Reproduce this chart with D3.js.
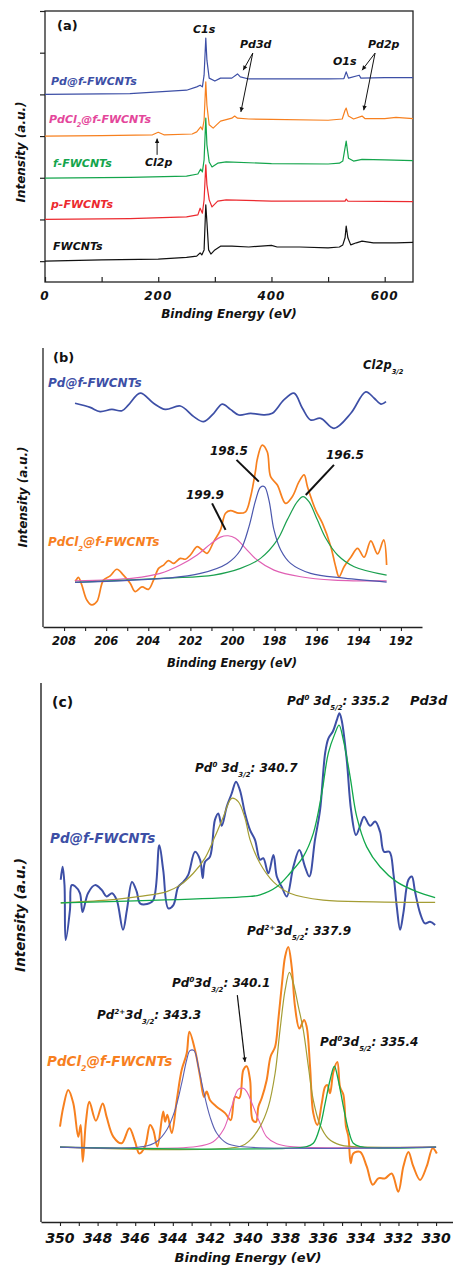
<!DOCTYPE html>
<html>
<head>
<meta charset="utf-8">
<script src="https://cdn.jsdelivr.net/npm/d3@7"></script>
<style>
  body { margin: 0; background: #fff; }
  svg text { font-family: "DejaVu Sans", "Liberation Sans", sans-serif; font-weight: bold; font-style: italic; }
  svg text.plain { font-style: normal; }
</style>
</head>
<body>
<div id="chart"></div>
<script>
// ---------- panel (a): survey spectra, [binding energy, intensity] ----------
var surveyFWCNTs = [[0,0.50],[100,0.53],[200,0.55],[250,0.59],[268,0.62],[274,0.70],[277,0.65],[281,0.77],[284,1.85],[286,1.44],[289,0.77],[293,0.67],[300,0.77],[310,0.86],[330,0.86],[360,0.84],[400,0.88],[410,0.84],[450,0.84],[500,0.82],[520,0.84],[526,0.89],[530,1.06],[532,1.34],[535,1.06],[540,0.89],[550,0.94],[560,0.98],[580,0.94],[620,0.94],[650,0.95]];
var surveyP = [[0,1.50],[150,1.52],[250,1.56],[270,1.61],[274,1.77],[278,1.65],[281,1.97],[284,2.81],[286,2.33],[290,1.97],[295,1.80],[305,1.94],[320,1.97],[400,1.94],[530,1.94],[532,1.99],[535,1.94],[650,1.93]];
var surveyF = [[0,2.49],[150,2.51],[250,2.54],[270,2.59],[275,2.71],[278,2.64],[281,2.93],[284,3.93],[286,3.29],[290,2.88],[295,2.76],[305,2.85],[320,2.88],[400,2.84],[500,2.83],[520,2.85],[526,2.90],[532,3.38],[536,2.97],[545,2.90],[560,2.94],[600,2.93],[650,2.91]];
var surveyPdCl2 = [[0,3.50],[100,3.51],[190,3.53],[200,3.59],[210,3.53],[260,3.55],[268,3.60],[275,3.72],[278,3.65],[281,3.88],[284,4.80],[286,4.24],[290,3.77],[297,3.69],[310,3.86],[330,3.93],[335,3.98],[340,3.93],[360,3.91],[400,3.90],[500,3.88],[525,3.91],[530,4.12],[532,4.17],[536,3.98],[545,3.91],[560,3.98],[565,3.92],[600,3.92],[620,3.95],[650,3.92]];
var surveyPd = [[0,4.50],[150,4.52],[250,4.60],[268,4.68],[274,4.72],[278,4.68],[281,4.96],[284,5.85],[286,5.32],[290,4.89],[300,4.82],[310,4.89],[330,4.89],[340,4.99],[345,4.92],[360,4.87],[400,4.87],[500,4.87],[528,4.88],[532,5.04],[536,4.89],[555,4.96],[558,4.89],[600,4.90],[650,4.90]];
var surveyTicksX = [0, 200, 400, 600];
var surveyTicksY = [0.5, 1.5, 2.5, 3.5, 4.5, 5.5, 6.5];

// ---------- panel (b): Cl2p ----------
var clPd = [[207.48,80.2],[206.76,78.7],[206.29,77.2],[205.73,78.0],[205.25,77.5],[204.94,79.6],[204.38,83.8],[203.75,80.2],[203.19,78.0],[202.48,79.2],[201.84,75.4],[201.37,73.6],[200.89,76.6],[200.49,79.9],[200.10,78.0],[199.70,76.0],[199.14,76.6],[198.51,76.0],[198.11,76.6],[197.56,81.4],[197.08,83.8],[196.68,78.4],[196.29,74.2],[195.81,74.8],[195.18,71.2],[194.38,76.6],[193.67,84.3],[193.27,82.0],[192.95,79.9],[192.71,80.8]];
var clPdCl2 = [[207.48,16.5],[207.43,16.8],[207.32,17.8],[207.16,15.1],[206.92,9.7],[206.68,7.9],[206.44,9.1],[206.13,16.8],[205.81,18.3],[205.49,20.7],[205.18,18.6],[204.86,15.7],[204.62,12.7],[204.30,14.4],[203.99,13.5],[203.75,16.8],[203.51,21.0],[203.27,22.2],[203.04,23.8],[202.80,22.8],[202.48,24.6],[202.24,24.3],[202.0,25.8],[201.68,28.8],[201.44,27.6],[201.21,26.4],[200.89,30.6],[200.57,34.8],[200.33,40.8],[200.10,41.7],[199.70,40.8],[199.38,41.3],[199.14,46.7],[198.90,56.3],[198.83,59.9],[198.59,65.2],[198.35,62.8],[198.19,53.9],[197.87,50.9],[197.48,44.3],[197.16,46.7],[196.84,52.1],[196.60,54.5],[196.44,50.3],[196.05,41.9],[195.73,37.2],[195.33,28.8],[195.10,21.6],[194.94,18.0],[194.70,21.6],[194.38,25.0],[194.06,28.2],[193.75,25.0],[193.43,30.9],[193.11,26.2],[192.82,31.2],[192.68,22.2]];
var clFit199 = [[207.48,16.5],[204.70,17.5],[203.43,19.2],[202.48,22.2],[201.68,25.8],[201.05,29.7],[200.57,32.2],[200.21,32.7],[199.86,31.8],[199.38,28.2],[198.83,24.0],[198.03,20.4],[196.76,18.0],[195.18,16.8],[192.68,16.5]];
var clFit198 = [[207.48,16.0],[203.11,17.5],[201.52,19.2],[200.25,22.8],[199.62,27.6],[199.22,35.9],[198.90,45.5],[198.67,50.1],[198.48,50.3],[198.27,45.5],[198.03,34.8],[197.71,27.6],[197.24,22.8],[196.29,19.2],[194.70,17.5],[192.68,16.1]];
var clFit196 = [[207.48,16.0],[203.11,17.5],[200.89,18.6],[199.62,21.0],[198.67,24.6],[197.87,31.2],[197.40,38.4],[196.92,44.9],[196.65,46.7],[196.37,44.9],[195.97,38.4],[195.57,31.8],[195.01,25.8],[194.22,21.6],[192.68,18.6]];
var clTicks = [208, 206, 204, 202, 200, 198, 196, 194, 192];

// ---------- panel (c): Pd3d ----------
var pdPd = [[349.96,63.5],[349.86,65.9],[349.76,62.5],[349.70,52.3],[349.47,57.9],[349.38,62.5],[349.20,62.3],[348.94,61.0],[348.80,57.5],[348.51,61.0],[348.14,62.5],[347.78,61.6],[347.52,60.4],[347.23,61.0],[346.98,59.7],[346.65,54.2],[346.44,57.9],[346.17,63.1],[345.92,61.3],[345.74,59.1],[345.37,59.0],[345.04,59.7],[344.72,69.9],[344.51,65.3],[344.24,58.2],[343.97,58.8],[343.71,62.2],[343.44,63.1],[343.18,64.4],[342.82,68.7],[342.55,67.2],[342.41,63.8],[342.29,66.8],[342.02,67.8],[341.76,74.6],[341.58,75.8],[341.40,73.5],[341.13,77.1],[340.87,79.5],[340.64,81.7],[340.43,80.1],[340.16,75.8],[339.89,72.7],[339.63,70.9],[339.36,67.2],[339.19,67.5],[338.92,64.7],[338.65,68.1],[338.47,64.1],[338.21,62.2],[337.94,60.4],[337.59,65.9],[337.27,69.0],[336.97,65.9],[336.74,64.1],[336.44,70.9],[336.17,76.4],[335.90,87.0],[335.73,89.7],[335.49,91.0],[335.28,93.1],[335.14,94.4],[335.02,93.1],[334.75,85.7],[334.52,76.4],[334.26,71.8],[334.04,73.5],[333.83,75.2],[333.51,73.5],[333.24,74.3],[332.98,72.4],[332.77,68.7],[332.48,68.7],[332.27,64.7],[332.09,58.5],[331.91,54.2],[331.74,57.3],[331.47,63.5],[331.29,64.1],[331.12,61.3],[330.85,57.3],[330.59,55.4],[330.32,55.7],[330.05,55.1]];
var pdFit340 = [[349.96,59.2],[347.52,59.7],[345.74,60.4],[344.32,61.3],[343.62,62.5],[342.91,64.7],[342.29,67.5],[341.76,71.5],[341.31,75.2],[340.87,78.6],[340.52,78.0],[340.16,74.9],[339.89,70.9],[339.36,66.5],[338.65,63.1],[337.77,61.0],[336.0,59.7],[333.33,59.4],[330.05,59.3]];
var pdFit335 = [[349.96,59.2],[339.89,60.4],[339.36,60.7],[338.47,62.2],[337.77,64.7],[337.06,67.8],[336.53,72.1],[336.08,79.5],[335.73,87.0],[335.37,90.7],[335.16,92.2],[334.93,89.4],[334.57,82.6],[334.22,75.2],[333.69,69.6],[332.98,65.9],[332.09,63.1],[331.03,61.3],[330.05,60.2]];
var pdPdCl2 = [[350.0,17.7],[349.82,21.4],[349.56,24.5],[349.29,22.0],[349.03,15.8],[348.90,18.0],[348.79,11.2],[348.62,18.6],[348.44,22.3],[348.09,18.8],[347.73,22.0],[347.52,19.5],[347.16,15.8],[346.72,14.6],[346.31,17.4],[346.01,14.9],[345.78,12.7],[345.48,14.0],[345.21,18.0],[345.04,17.1],[344.82,14.0],[344.51,20.5],[344.41,18.6],[344.29,19.9],[344.06,16.5],[343.79,22.6],[343.53,28.2],[343.26,31.3],[343.12,35.3],[342.82,31.9],[342.55,27.0],[342.34,23.2],[342.20,24.2],[342.02,22.6],[341.67,21.4],[341.22,20.2],[340.92,18.9],[340.69,23.2],[340.46,23.0],[340.25,28.2],[340.07,28.9],[339.89,26.3],[339.75,18.9],[339.57,18.6],[339.45,21.4],[339.27,23.0],[339.01,26.3],[338.80,30.7],[338.56,32.5],[338.39,37.5],[338.21,43.7],[338.03,49.2],[337.86,51.0],[337.68,47.4],[337.50,39.9],[337.27,35.9],[337.02,37.5],[336.88,36.2],[336.70,28.8],[336.53,20.2],[336.31,18.0],[336.08,22.0],[335.90,25.1],[335.78,25.4],[335.64,23.9],[335.46,27.9],[335.25,29.7],[335.11,25.1],[334.93,23.6],[334.79,17.7],[334.66,15.8],[334.54,10.9],[334.40,12.7],[334.04,13.0],[333.69,10.3],[333.37,6.9],[333.07,8.1],[332.71,8.1],[332.36,9.0],[332.01,5.6],[331.74,10.3],[331.47,13.0],[331.21,10.3],[330.85,7.8],[330.50,10.3],[330.18,13.7],[329.96,12.7]];
var pdFit343 = [[350.0,13.9],[345.57,14.0],[344.86,14.9],[344.32,17.1],[343.88,20.8],[343.53,25.7],[343.26,30.1],[343.09,31.8],[342.87,31.8],[342.64,28.8],[342.38,24.5],[342.02,19.5],[341.67,16.5],[341.13,14.6],[340.43,14.0],[330.0,13.9]];
var pdFit3401 = [[350.0,13.9],[342.73,14.0],[341.85,14.9],[341.31,17.1],[340.87,21.4],[340.52,24.6],[340.25,24.8],[340.07,24.2],[339.72,21.4],[339.36,18.3],[339.01,15.8],[338.47,14.5],[337.77,14.0],[330.0,13.9]];
var pdFit337 = [[350.0,13.9],[340.43,14.0],[339.89,15.2],[339.36,17.7],[338.92,21.4],[338.56,27.6],[338.30,35.6],[338.03,43.0],[337.80,46.3],[337.59,44.3],[337.32,39.9],[337.06,35.6],[336.79,28.8],[336.53,22.6],[336.17,18.0],[335.73,15.5],[335.11,14.3],[334.40,14.0],[330.0,13.9]];
var pdFit3354 = [[350.0,13.9],[336.88,14.0],[336.53,14.6],[336.17,17.7],[335.90,22.0],[335.64,26.3],[335.41,28.9],[335.20,26.3],[334.93,21.4],[334.66,17.1],[334.40,14.6],[334.04,14.0],[330.0,13.9]];
var pdTicks = [350, 348, 346, 344, 342, 340, 338, 336, 334, 332, 330];

var BLUE = "#3d4fa6", ORANGE = "#f7801f", GREEN = "#14a54c", RED = "#ec2a2f", PINK = "#e4479b";

var svg = d3.select("#chart").append("svg").attr("width", 453).attr("height", 1266);

function rich(g, x, y, parts, size, color, anchor) {
  var t = g.append("text").attr("x", x).attr("y", y).attr("font-size", size)
    .attr("fill", color || "#111").attr("text-anchor", anchor || "start");
  var cur = 0;
  parts.forEach(function(p) {
    var s = typeof p === "string" ? [p, ""] : p;
    var shift = s[1] === "sup" ? -0.45 * size : s[1] === "sub" ? 0.4 * size : 0;
    var ts = t.append("tspan").text(s[0]).attr("dy", shift - cur);
    if (s[1]) ts.attr("font-size", size * 0.58);
    cur = shift;
  });
  return t;
}

function arrowLine(g, x1, y1, x2, y2, w, head) {
  g.append("line").attr("x1", x1).attr("y1", y1).attr("x2", x2).attr("y2", y2)
    .attr("stroke", "#111").attr("stroke-width", w);
  if (head) {
    var a = Math.atan2(y2 - y1, x2 - x1), L = 5, s = 0.45;
    var p = [[x2, y2], [x2 - L * Math.cos(a - s), y2 - L * Math.sin(a - s)], [x2 - L * Math.cos(a + s), y2 - L * Math.sin(a + s)]];
    g.append("path").attr("d", "M" + p.join("L") + "Z").attr("fill", "#111");
  }
}

function drawLine(g, data, x, y, color, w, curve) {
  g.append("path").datum(data)
    .attr("fill", "none").attr("stroke", color).attr("stroke-width", w)
    .attr("stroke-linejoin", "round")
    .attr("d", d3.line().x(function(d) { return x(d[0]); }).y(function(d) { return y(d[1]); }).curve(curve || d3.curveLinear));
}

// ================= panel (a) =================
(function() {
  var g = svg.append("g");
  var x = d3.scaleLinear().domain([0, 650]).range([45, 413]);
  var y = d3.scaleLinear().domain([0, 6.5]).range([282, 11]);

  g.append("rect").attr("x", 45).attr("y", 11).attr("width", 368).attr("height", 271)
    .attr("fill", "none").attr("stroke", "#222").attr("stroke-width", 1.3);

  var xa = g.append("g").attr("transform", "translate(0,282)")
    .call(d3.axisBottom(x).tickValues(d3.range(0, 651, 100)).tickSizeInner(-5).tickSizeOuter(0).tickFormat(""));
  xa.select(".domain").remove();
  xa.selectAll("line").attr("stroke", "#222").attr("stroke-width", 1.2);
  var ya = g.append("g").attr("transform", "translate(45,0)")
    .call(d3.axisLeft(y).tickValues(surveyTicksY).tickSize(5).tickFormat(""));
  ya.select(".domain").remove();
  ya.selectAll("line").attr("stroke", "#222").attr("stroke-width", 1.2);

  surveyTicksX.forEach(function(t) {
    g.append("text").attr("x", x(t)).attr("y", 300).attr("text-anchor", "middle")
      .attr("font-size", 12).attr("letter-spacing", 1).attr("fill", "#111").text(t);
  });
  g.append("text").attr("x", 229).attr("y", 318).attr("text-anchor", "middle").attr("font-size", 12).attr("fill", "#111").text("Binding Energy (eV)");
  g.append("text").attr("transform", "translate(25,152) rotate(-90)").attr("text-anchor", "middle").attr("font-size", 12).attr("fill", "#111").text("Intensity (a.u.)");

  drawLine(g, surveyFWCNTs, x, y, "#111", 1.2);
  drawLine(g, surveyP, x, y, RED, 1.2);
  drawLine(g, surveyPdCl2, x, y, ORANGE, 1.2);
  drawLine(g, surveyF, x, y, GREEN, 1.2);
  drawLine(g, surveyPd, x, y, BLUE, 1.2);

  g.append("text").attr("class", "plain").attr("x", 57).attr("y", 30).attr("font-size", 13).attr("fill", "#111").text("(a)");
  rich(g, 193, 33, ["C1s"], 11);
  rich(g, 240, 48, ["Pd3d"], 11);
  rich(g, 333, 65, ["O1s"], 11);
  rich(g, 368, 48, ["Pd2p"], 11);
  rich(g, 145, 166, ["Cl2p"], 11);
  arrowLine(g, x(367), y(5.49), x(350), y(5.08), 1, true);
  arrowLine(g, x(367), y(5.49), x(346), y(4.08), 1, true);
  arrowLine(g, x(583), y(5.49), x(560), y(5.08), 1, true);
  arrowLine(g, x(583), y(5.49), x(563), y(4.12), 1, true);
  arrowLine(g, x(198), y(3.05), x(198), y(3.44), 1, true);

  rich(g, 51, 85, ["Pd@f-FWCNTs"], 11, BLUE);
  rich(g, 49, 123, ["PdCl", ["2", "sub"], "@f-FWCNTs"], 11, PINK);
  rich(g, 53, 167, ["f-FWCNTs"], 11, GREEN);
  rich(g, 51, 208, ["p-FWCNTs"], 11, RED);
  rich(g, 53, 250, ["FWCNTs"], 11, "#111");
})();

// ================= panel (b) =================
(function() {
  var g = svg.append("g");
  var x = d3.scaleLinear().domain([209, 191]).range([43, 422]);
  var y = d3.scaleLinear().domain([0, 100]).range([627, 348]);

  g.append("line").attr("x1", 43).attr("x2", 43).attr("y1", 348).attr("y2", 627).attr("stroke", "#222").attr("stroke-width", 1.3);
  var xa = g.append("g").attr("transform", "translate(0,627)")
    .call(d3.axisBottom(x).tickValues(d3.range(208, 191, -1)).tickSizeInner(4).tickSizeOuter(0).tickFormat(""));
  xa.select(".domain").attr("stroke", "#222").attr("stroke-width", 1.3);
  xa.selectAll("line").attr("stroke", "#222").attr("stroke-width", 1.1);

  clTicks.forEach(function(t) {
    g.append("text").attr("x", x(t)).attr("y", 645).attr("text-anchor", "middle")
      .attr("font-size", 11.5).attr("fill", "#111").text(t);
  });
  g.append("text").attr("x", 232).attr("y", 667).attr("text-anchor", "middle").attr("font-size", 11.5).attr("fill", "#111").text("Binding Energy (eV)");
  g.append("text").attr("transform", "translate(27,497) rotate(-90)").attr("text-anchor", "middle").attr("font-size", 12).attr("fill", "#111").text("Intensity (a.u.)");

  var sm = d3.curveCatmullRom.alpha(0.5);
  drawLine(g, clPd, x, y, BLUE, 1.7, sm);
  drawLine(g, clPdCl2, x, y, ORANGE, 1.7, sm);
  drawLine(g, clFit199, x, y, "#e060b4", 1.2, sm);
  drawLine(g, clFit196, x, y, "#1ba04f", 1.2, sm);
  drawLine(g, clFit198, x, y, "#4b57ad", 1.2, sm);

  g.append("text").attr("class", "plain").attr("x", 53).attr("y", 362).attr("font-size", 13).attr("fill", "#111").text("(b)");
  rich(g, 363, 369, ["Cl2p", ["3/2", "sub"]], 11.5);
  rich(g, 48, 387, ["Pd@f-FWCNTs"], 12, BLUE);
  rich(g, 48, 546, ["PdCl", ["2", "sub"], "@f-FWCNTs"], 12, ORANGE);
  rich(g, 210, 455, ["198.5"], 12);
  rich(g, 326, 459, ["196.5"], 12);
  rich(g, 186, 499, ["199.9"], 12);
  arrowLine(g, x(199.81), y(59.9), x(198.75), y(52.1), 2, false);
  arrowLine(g, x(195.18), y(58.1), x(196.52), y(47.3), 2, false);
  arrowLine(g, x(200.97), y(44.3), x(200.33), y(34.8), 2, false);
})();

// ================= panel (c) =================
(function() {
  var g = svg.append("g");
  var x = d3.scaleLinear().domain([351.01, 329.1]).range([41, 453]);
  var y = d3.scaleLinear().domain([0, 100]).range([1222, 683]);

  g.append("line").attr("x1", 41).attr("x2", 41).attr("y1", 683).attr("y2", 1222).attr("stroke", "#222").attr("stroke-width", 1.4);
  var xa = g.append("g").attr("transform", "translate(0,1222)")
    .call(d3.axisBottom(x).tickValues(d3.range(350, 329, -1)).tickSizeInner(4).tickSizeOuter(0).tickFormat(""));
  xa.select(".domain").attr("stroke", "#222").attr("stroke-width", 1.4);
  xa.selectAll("line").attr("stroke", "#222").attr("stroke-width", 1.1);

  pdTicks.forEach(function(t) {
    g.append("text").attr("x", x(t)).attr("y", 1243).attr("text-anchor", "middle")
      .attr("font-size", 14).attr("fill", "#111").text(t);
  });
  g.append("text").attr("x", 248).attr("y", 1262).attr("text-anchor", "middle").attr("font-size", 13).attr("fill", "#111").text("Binding Energy (eV)");
  g.append("text").attr("transform", "translate(25,915) rotate(-90)").attr("text-anchor", "middle").attr("font-size", 13.5).attr("fill", "#111").text("Intensity (a.u.)");

  var sm = d3.curveCatmullRom.alpha(0.5);
  drawLine(g, pdPd, x, y, BLUE, 2, sm);
  drawLine(g, pdFit340, x, y, "#a49d34", 1.2, sm);
  drawLine(g, pdFit335, x, y, "#12a84b", 1.3, sm);

  drawLine(g, pdPdCl2, x, y, ORANGE, 2, sm);
  drawLine(g, pdFit3401, x, y, "#e262b6", 1.1, sm);
  drawLine(g, pdFit337, x, y, "#a49d34", 1.2, sm);
  drawLine(g, pdFit3354, x, y, "#12a84b", 1.3, sm);
  drawLine(g, pdFit343, x, y, "#5a60b2", 1.1, sm);

  g.append("text").attr("class", "plain").attr("x", 52).attr("y", 707).attr("font-size", 14).attr("fill", "#111").text("(c)");
  rich(g, 410, 705, ["Pd3d"], 13);
  rich(g, 287, 705, ["Pd", ["0", "sup"], " 3d", ["5/2", "sub"], ": 335.2"], 12);
  rich(g, 195, 772, ["Pd", ["0", "sup"], " 3d", ["3/2", "sub"], ": 340.7"], 12);
  rich(g, 247, 935, ["Pd", ["2+", "sup"], "3d", ["5/2", "sub"], ": 337.9"], 12);
  rich(g, 172, 987, ["Pd", ["0", "sup"], "3d", ["3/2", "sub"], ": 340.1"], 12);
  rich(g, 97, 1019, ["Pd", ["2+", "sup"], "3d", ["3/2", "sub"], ": 343.3"], 12);
  rich(g, 320, 1046, ["Pd", ["0", "sup"], "3d", ["5/2", "sub"], ": 335.4"], 12);
  rich(g, 50, 843, ["Pd@f-FWCNTs"], 13.5, BLUE);
  rich(g, 47, 1066, ["PdCl", ["2", "sub"], "@f-FWCNTs"], 13.5, ORANGE);
  arrowLine(g, x(340.57), y(42.1), x(340.16), y(29.7), 1.2, true);
})();
</script>
</body>
</html>
